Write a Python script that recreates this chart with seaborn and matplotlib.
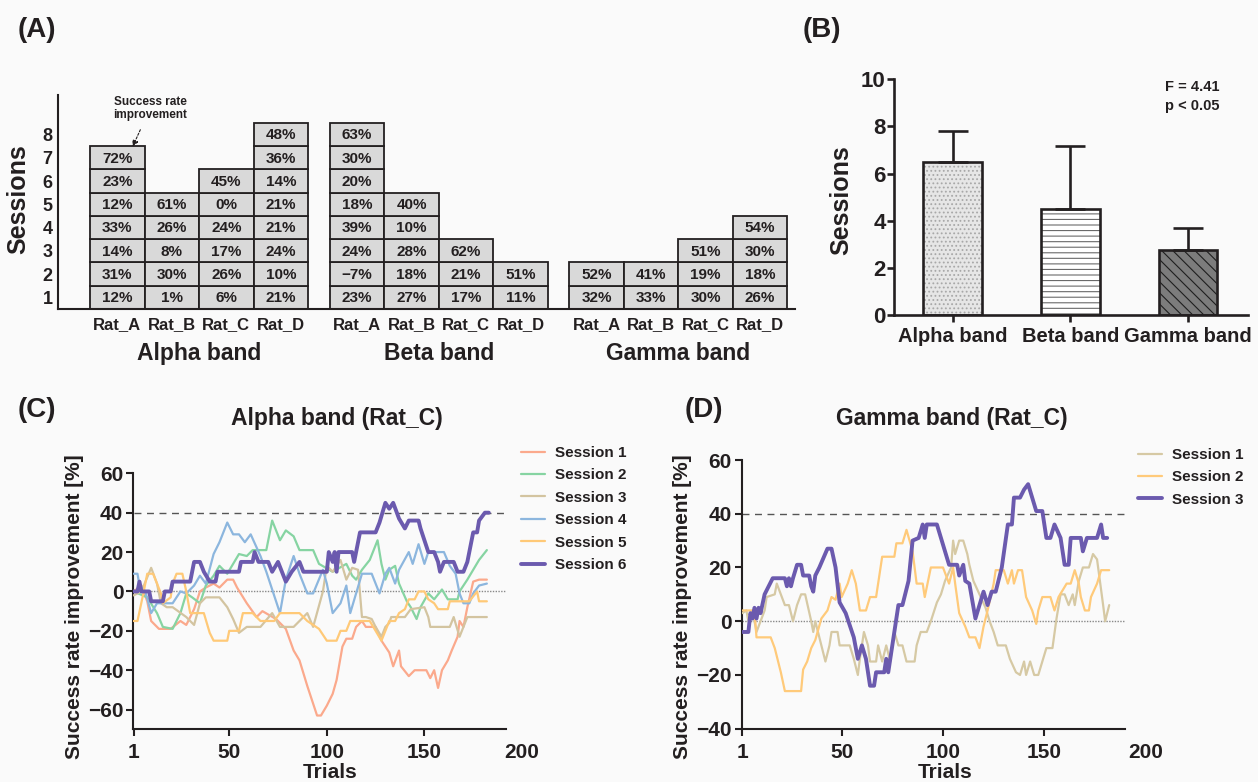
import numpy as np
import pandas as pd
import matplotlib
matplotlib.use("Agg")
import matplotlib.pyplot as plt
import seaborn as sns

# ---------------- data ----------------
rats = ["Rat_A", "Rat_B", "Rat_C", "Rat_D"]
bands = ["Alpha band", "Beta band", "Gamma band"]

# success rate improvement per session (bottom -> top), one list per rat
alpha_cells = [[12, 31, 14, 33, 12, 23, 72], [1, 30, 8, 26, 61],
               [6, 26, 17, 24, 0, 45], [21, 10, 24, 21, 21, 14, 36, 48]]
beta_cells = [[23, -7, 24, 39, 18, 20, 30, 63], [27, 18, 28, 10, 40],
              [17, 21, 62], [11, 51]]
gamma_cells = [[32, 52], [33, 41], [30, 19, 51], [26, 18, 30, 54]]

sessions_mean = [6.5, 4.5, 2.75]
sessions_sd = [1.3, 2.65, 0.95]

# (trial, success rate improvement %), Alpha band Rat_C
alpha_s1 = [(1, 0), (5, 3), (8, -5), (10, -15), (14, -19), (20, -19), (25, -15), (28, -17), (32, -9),
            (35, 0), (38, 2), (42, 4), (45, 2), (49, 6), (52, 6), (54, 2), (59, -6), (64, -13), (67, -10),
            (74, -14), (79, -19), (83, -30), (86, -35), (90, -48), (95, -63), (97, -63), (100, -58),
            (103, -52), (105, -45), (108, -28), (110, -24), (113, -24), (115, -18), (118, -15), (120, -18),
            (125, -18), (128, -25), (132, -31), (134, -38), (137, -30), (138, -38), (142, -43), (145, -40),
            (151, -40), (153, -44), (155, -40), (157, -49), (159, -40), (162, -35), (164, -30), (167, -23),
            (168, -15), (170, -18), (172, -8), (175, 5), (178, 6), (182, 6)]
alpha_s2 = [(1, 0), (8, -3), (13, -11), (16, -18), (21, -19), (25, -11), (28, -1), (31, -3), (35, -6),
            (38, 3), (42, 8), (45, 13), (49, 9), (52, 14), (55, 19), (59, 18), (62, 21), (69, 21), (72, 36),
            (76, 26), (79, 31), (83, 28), (86, 21), (93, 21), (96, 14), (103, 10), (110, 14), (113, 8),
            (115, 6), (118, 11), (122, 16), (126, 26), (128, 14), (130, 6), (132, 11), (135, 13), (137, 4),
            (141, -5), (143, -8), (146, -14), (148, -8), (152, -1), (155, -4), (159, 1), (162, -4),
            (167, -4), (168, 0), (172, 6), (175, 11), (178, 16), (182, 21)]
alpha_s3 = [(1, -2), (5, 0), (10, 12), (13, 4), (15, -6), (18, -8), (21, -8), (28, -13), (32, -17),
            (35, -6), (38, -3), (45, -3), (49, -8), (52, -14), (55, -21), (59, -18), (66, -18), (72, -11),
            (76, -18), (83, -18), (90, -11), (93, -18), (98, 0), (100, 13), (103, 10), (107, 16), (110, 6),
            (113, 12), (116, 11), (117, -1), (118, -13), (120, -13), (123, -14), (125, -18), (128, -23),
            (130, -18), (132, -16), (133, -13), (140, -13), (143, -9), (150, -8), (152, -13), (153, -18),
            (163, -18), (165, -13), (168, -23), (170, -18), (172, -13), (182, -13)]
alpha_s4 = [(1, 9), (3, 9), (4, 3), (7, 0), (10, -11), (13, -6), (21, -6), (25, 0), (28, -1), (32, 3),
            (35, 8), (38, 4), (42, 19), (45, 25), (49, 35), (52, 29), (55, 29), (58, 25), (61, 29),
            (66, 18), (69, 10), (72, 1), (76, -11), (79, 6), (83, 18), (86, 9), (90, -1), (93, -1),
            (98, 11), (100, 4), (103, -11), (107, -6), (110, 3), (112, -11), (115, -1), (118, 9), (123, 9),
            (127, -1), (130, 9), (132, 12), (135, 4), (137, 11), (142, 20), (144, 14), (147, 24), (150, 14),
            (152, 20), (160, 20), (163, 13), (166, 9), (168, -1), (170, -6), (173, -6), (175, -1),
            (178, 3), (182, 4)]
alpha_s5 = [(1, -15), (3, -15), (6, -1), (8, 9), (11, 9), (13, 4), (15, -1), (16, -6), (20, -3), (21, 4),
            (23, 9), (26, 9), (28, 0), (30, -11), (37, -11), (40, -21), (42, -25), (49, -25), (50, -20),
            (55, -20), (57, -11), (62, -11), (66, -15), (73, -15), (76, -11), (86, -11), (90, -15),
            (96, -19), (100, -25), (105, -25), (107, -20), (110, -20), (112, -15), (122, -15), (125, -20),
            (128, -25), (130, -20), (132, -15), (135, -15), (137, -11), (140, -9), (142, -4), (145, -4),
            (147, 0), (150, 0), (152, -4), (155, -6), (157, -9), (162, -9), (163, -5), (173, -5), (177, 0),
            (178, -5), (182, -5)]
alpha_s6 = [(1, 0), (3, 0), (4, 5), (5, 0), (9, 0), (10, -5), (16, -5), (17, 0), (20, 0), (21, 5), (30, 5),
            (31, 10), (32, 15), (35, 15), (37, 10), (40, 5), (43, 5), (44, 10), (55, 10), (56, 15), (62, 15),
            (63, 20), (65, 15), (70, 15), (72, 10), (75, 15), (77, 10), (79, 5), (82, 10), (86, 15),
            (88, 10), (100, 10), (101, 20), (103, 15), (104, 20), (105, 10), (106, 20), (113, 20),
            (114, 15), (117, 30), (125, 30), (127, 35), (130, 45), (132, 42), (134, 45), (137, 37),
            (140, 32), (142, 36), (147, 36), (148, 32), (152, 20), (155, 20), (157, 15), (158, 10),
            (160, 15), (165, 15), (167, 10), (170, 10), (172, 15), (175, 30), (177, 30), (178, 36),
            (181, 40), (183, 40)]

# panel D, Gamma band Rat_C
gamma_s1 = [(1, 3), (3, 4), (4, 0), (6, 4), (8, -4), (10, 0), (12, 4), (13, 9), (17, 10), (18, 14), (20, 10),
            (22, 6), (24, 6), (26, 0), (28, 6), (30, 10), (32, 10), (35, 0), (36, -4), (37, 0), (40, -9),
            (42, -15), (44, -9), (45, -4), (48, -4), (49, -9), (54, -9), (56, -14), (58, -20), (59, -14),
            (61, -4), (63, -9), (64, -15), (67, -15), (68, -9), (70, -15), (72, -9), (74, -15), (76, -4),
            (78, -9), (80, -9), (82, -15), (86, -15), (87, -9), (89, -4), (92, -4), (94, 0), (97, 7),
            (99, 10), (101, 15), (104, 20), (105, 30), (106, 25), (108, 30), (110, 30), (112, 25),
            (113, 21), (115, 15), (118, 10), (121, 5), (123, 0), (125, -4), (127, -9), (131, -9),
            (133, -14), (136, -19), (138, -20), (140, -15), (141, -20), (143, -15), (145, -20), (147, -20),
            (149, -15), (151, -10), (154, -10), (156, 1), (158, 10), (160, 10), (162, 6), (164, 10),
            (165, 6), (167, 15), (169, 20), (172, 20), (174, 25), (176, 23), (179, 6), (180, 0), (182, 6)]
gamma_s2 = [(1, 4), (7, 4), (8, -6), (15, -6), (17, -10), (20, -19), (22, -26), (30, -26), (31, -18),
            (33, -15), (35, -10), (37, -7), (40, 1), (43, 4), (45, 9), (47, 8), (49, 14), (50, 9), (53, 14),
            (55, 19), (57, 14), (59, 4), (62, 4), (64, 9), (67, 9), (70, 24), (76, 24), (77, 29), (80, 29),
            (82, 34), (85, 26), (87, 14), (90, 14), (91, 9), (94, 20), (100, 20), (103, 14), (105, 20),
            (106, 14), (108, 3), (111, -2), (113, -6), (116, -6), (118, -10), (120, -2), (122, 4),
            (125, 14), (126, 19), (130, 19), (132, 14), (134, 19), (135, 14), (137, 19), (139, 19),
            (141, 9), (144, 4), (146, -1), (147, 4), (149, 9), (153, 9), (155, 4), (157, 9), (161, 14),
            (163, 14), (165, 19), (167, 14), (168, 9), (170, 4), (172, 4), (173, 9), (176, 14), (178, 19),
            (182, 19)]
gamma_s3 = [(1, -4), (4, -4), (5, 3), (6, 1), (7, 5), (8, 1), (9, 5), (10, 3), (12, 10), (16, 16), (22, 16),
            (23, 13), (24, 16), (25, 13), (26, 16), (28, 21), (30, 21), (31, 17), (34, 17), (35, 13),
            (36, 11), (37, 17), (39, 20), (43, 27), (45, 27), (47, 20), (49, 7), (52, 3), (56, -6),
            (58, -14), (60, -9), (62, -14), (64, -24), (66, -24), (67, -19), (71, -19), (72, -14),
            (73, -19), (75, -9), (78, 6), (80, 6), (83, 15), (85, 30), (88, 31), (90, 36), (91, 31),
            (92, 36), (97, 36), (99, 31), (101, 26), (103, 21), (107, 21), (108, 17), (110, 21), (111, 15),
            (113, 14), (116, 1), (118, 6), (120, 11), (122, 6), (124, 11), (126, 11), (129, 20), (132, 36),
            (134, 36), (135, 46), (138, 46), (140, 49), (142, 51), (144, 46), (146, 41), (149, 41),
            (151, 31), (153, 31), (155, 36), (158, 31), (160, 21), (162, 21), (163, 31), (168, 31),
            (169, 26), (171, 31), (176, 31), (178, 36), (179, 31), (181, 31)]

ink = "#231f20"
bg = "#fafafa"

sns.set_style("ticks")
plt.rcParams["font.family"] = ["Liberation Sans", "DejaVu Sans"]
plt.rcParams["font.weight"] = "bold"
plt.rcParams["text.color"] = ink
plt.rcParams["axes.edgecolor"] = ink
plt.rcParams["xtick.color"] = ink
plt.rcParams["ytick.color"] = ink
plt.rcParams["hatch.linewidth"] = 0.8

fig = plt.figure(figsize=(12.58, 7.82), dpi=100, facecolor=bg)


def px(x0, y0, x1, y1):
    # pixel box -> figure fraction rect
    W, H = 1258, 782
    return [x0 / W, 1 - y1 / H, (x1 - x0) / W, (y1 - y0) / H]


# ---------------- (A) tile chart ----------------
axA = fig.add_axes(px(58, 95, 795, 309))
axA.set_facecolor(bg)
group_start = [0, 4.4, 8.8]
centers = []
for g, cells in enumerate([alpha_cells, beta_cells, gamma_cells]):
    for r, col in enumerate(cells):
        x = group_start[g] + r + 0.5
        centers.append(x)
        axA.bar([x] * len(col), [1] * len(col), bottom=np.arange(len(col)), width=1,
                color="#d9d9d9", edgecolor=ink, linewidth=1.3)
        for k, v in enumerate(col):
            axA.text(x, k + 0.47, f"{v}%".replace("-", "\u2212"), ha="center", va="center",
                     fontsize=11, fontweight="bold")
    axA.text(group_start[g] + 2, -1.9, bands[g], ha="center", va="center",
             fontsize=16.5, fontweight="bold", clip_on=False)

axA.set_xlim(-0.59, 12.94)
axA.set_ylim(0, 9.2)
axA.set_xticks(centers, rats * 3)
axA.set_yticks(np.arange(8) + 0.5, [str(i) for i in range(1, 9)])
axA.tick_params(axis="x", length=0, pad=6, labelsize=12)
axA.tick_params(axis="y", length=0, pad=4, labelsize=13)
for lab in axA.get_xticklabels() + axA.get_yticklabels():
    lab.set_fontweight("bold")
sns.despine(ax=axA)
for s in ["left", "bottom"]:
    axA.spines[s].set_linewidth(1.5)
axA.annotate("Success rate\nimprovement", xy=(0.78, 6.98), xytext=(1.1, 8.62),
             ha="center", va="center", fontsize=8.5, fontweight="bold",
             arrowprops=dict(arrowstyle="-|>", linestyle=(0, (2, 1.5)), color=ink, lw=0.8,
                             shrinkA=4, shrinkB=0, mutation_scale=9))
fig.text(18 / 1258, 1 - 199 / 782, "Sessions", rotation=90, ha="center", va="center",
         fontsize=18, fontweight="bold")

# ---------------- (B) bar chart ----------------
axB = fig.add_axes(px(894, 79.3, 1248, 315))
axB.set_facecolor(bg)
dfB = pd.DataFrame({"band": bands, "sessions": sessions_mean})
sns.barplot(data=dfB, x="band", y="sessions", ax=axB, width=0.5, errorbar=None, color="white")
# fill + hatch (hatch colour follows the edge colour, so outline is drawn on top separately)
styles = [("#e6e6e6", "#a8a8a8", "...."), ("white", "#6a6a6a", "---"), ("#7c7c7c", "#1e1e1e", "\\\\\\")]
for patch, (fc, hc, hatch) in zip(axB.patches, styles):
    patch.set_facecolor(fc)
    patch.set_hatch(hatch)
    patch.set_edgecolor(hc)
    patch.set_linewidth(0)
axB.bar(range(3), sessions_mean, width=0.5, fill=False, edgecolor=ink, linewidth=1.9, zorder=2.5)
axB.errorbar(range(3), sessions_mean, yerr=[np.zeros(3), sessions_sd], fmt="none",
             ecolor=ink, elinewidth=1.9, capsize=10.5, capthick=1.9, zorder=3)
axB.set_xlim(-0.5, 2.51)
axB.set_ylim(0, 10)
axB.set_yticks(range(0, 11, 2))
axB.set_xlabel("")
axB.set_ylabel("")
axB.tick_params(axis="y", length=5, width=1.9, pad=1, labelsize=16)
axB.tick_params(axis="x", length=5, width=1.9, pad=4, labelsize=14.5)
for lab in axB.get_xticklabels() + axB.get_yticklabels():
    lab.set_fontweight("bold")
sns.despine(ax=axB)
for s in ["left", "bottom"]:
    axB.spines[s].set_linewidth(1.9)
axB.text(0.766, 0.998, "F = 4.41\np < 0.05", transform=axB.transAxes, ha="left", va="top",
         fontsize=10.5, fontweight="bold", linespacing=1.5)
fig.text(841 / 1258, 1 - 200 / 782, "Sessions", rotation=90, ha="center", va="center",
         fontsize=18, fontweight="bold")


# ---------------- (C) and (D) time courses ----------------
def session_panel(ax, series, colors, widths, ylim, yticks, xend):
    ax.set_facecolor(bg)
    for i, (pts, col, lw) in enumerate(zip(series, colors, widths)):
        df = pd.DataFrame(pts, columns=["trial", "value"])
        sns.lineplot(data=df, x="trial", y="value", ax=ax, color=col, linewidth=lw,
                     label=f"Session {i + 1}", estimator=None, sort=False, zorder=3 + i)
    ax.hlines(40, 1, xend, colors="#555555", linestyles=(0, (5, 4)), linewidth=1.0, zorder=1)
    ax.hlines(0, 1, xend, colors="#888888", linestyles=(0, (1, 1)), linewidth=1.0, zorder=1)
    ax.set_xlim(0.7, 200)
    ax.set_ylim(*ylim)
    ax.set_xticks([1, 50, 100, 150, 200])
    ax.set_yticks(yticks)
    ax.set_xlabel("")
    ax.set_ylabel("")
    ax.tick_params(axis="both", length=5, width=1.5, labelsize=15)
    ax.tick_params(axis="x", pad=5)
    ax.tick_params(axis="y", pad=2)
    ax.xaxis.get_major_ticks()[-1].tick1line.set_visible(False)
    for lab in ax.get_xticklabels() + ax.get_yticklabels():
        lab.set_fontweight("bold")
    sns.despine(ax=ax)
    ax.spines["bottom"].set_bounds(0.7, xend)
    for s in ["left", "bottom"]:
        ax.spines[s].set_linewidth(1.5)


axC = fig.add_axes(px(133, 473.3, 522, 729.3))
session_panel(axC, [alpha_s1, alpha_s2, alpha_s3, alpha_s4, alpha_s5, alpha_s6],
              ["#fba98c", "#86d4a2", "#d3c4a0", "#8cb6de", "#ffc977", "#6b5aae"],
              [1.6, 1.6, 1.6, 1.6, 1.6, 2.8], (-70, 60), range(-60, 61, 20), 192)
axC.legend(loc="upper left", bbox_to_anchor=(521 / 1258, 1 - 446 / 782),
           bbox_transform=fig.transFigure, frameon=False, prop={"weight": "bold", "size": 11},
           handlelength=1.6, labelspacing=0.55, handletextpad=0.6, borderpad=0, borderaxespad=0)

axD = fig.add_axes(px(741.7, 460, 1145.7, 728.7))
session_panel(axD, [gamma_s1, gamma_s2, gamma_s3],
              ["#d6c9a4", "#ffca7a", "#6b5aae"], [1.6, 1.6, 2.8],
              (-40, 60), range(-40, 61, 20), 190)
axD.legend(loc="upper left", bbox_to_anchor=(1138 / 1258, 1 - 448 / 782),
           bbox_transform=fig.transFigure, frameon=False, prop={"weight": "bold", "size": 11},
           handlelength=1.6, labelspacing=0.55, handletextpad=0.6, borderpad=0, borderaxespad=0)

fig.text(337 / 1258, 1 - 418 / 782, "Alpha band (Rat_C)", ha="center", va="center",
         fontsize=16.5, fontweight="bold")
fig.text(952 / 1258, 1 - 418 / 782, "Gamma band (Rat_C)", ha="center", va="center",
         fontsize=16.5, fontweight="bold")
for xc in [75, 683]:
    fig.text(xc / 1258, 1 - 607 / 782, "Success rate improvement [%]", rotation=90,
             ha="center", va="center", fontsize=15, fontweight="bold")
for xc in [330, 945]:
    fig.text(xc / 1258, 1 - 772 / 782, "Trials", ha="center", va="center",
             fontsize=15, fontweight="bold")

# panel letters
for lab, x, y in [("(A)", 18, 30), ("(B)", 803, 30), ("(C)", 18, 410), ("(D)", 685, 410)]:
    fig.text(x / 1258, 1 - y / 782, lab, ha="left", va="center", fontsize=20, fontweight="bold")

fig.savefig("out.png", dpi=100, facecolor=bg)
